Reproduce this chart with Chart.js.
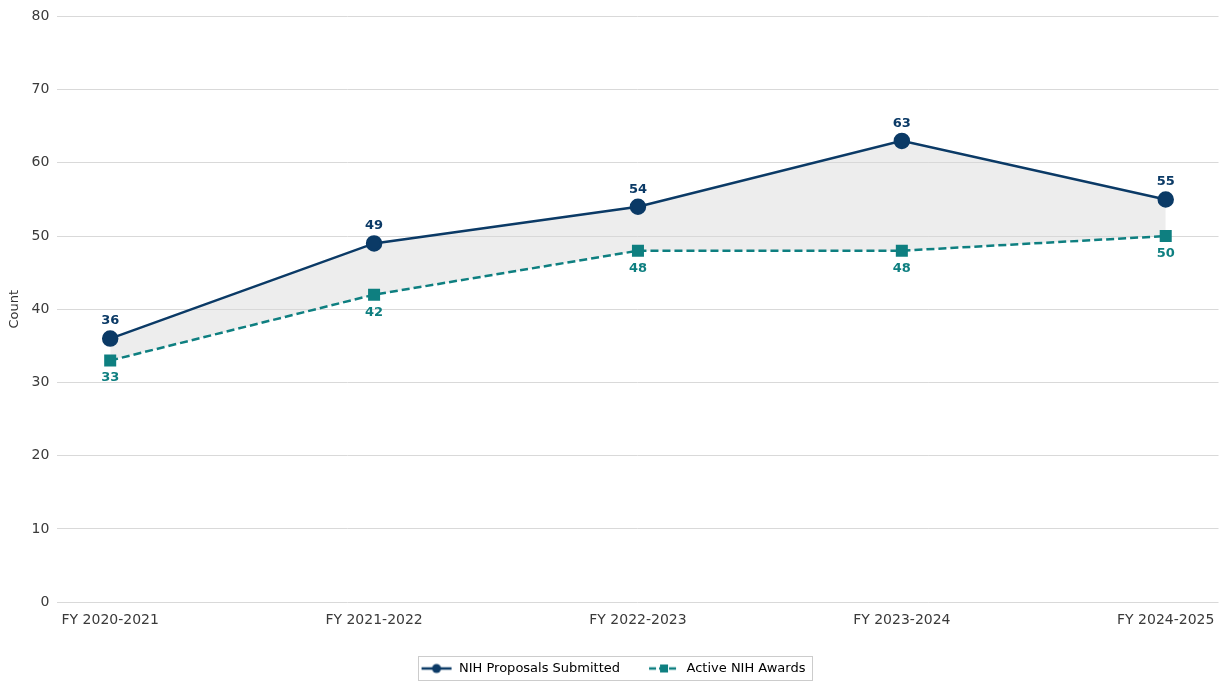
<!DOCTYPE html>
<html>
<head>
<meta charset="utf-8">
<script src="https://cdn.jsdelivr.net/npm/chart.js@4.4.1/dist/chart.umd.min.js"></script>
<style>
  html, body { margin: 0; padding: 0; background: #fff; }
</style>
</head>
<body>
<canvas id="nihChart" width="1228" height="681"></canvas>
<script>
const categories = ['FY 2020-2021', 'FY 2021-2022', 'FY 2022-2023', 'FY 2023-2024', 'FY 2024-2025'];
const proposals = [36, 49, 54, 63, 55];
const awards = [33, 42, 48, 48, 50];
const yTicks = [0, 10, 20, 30, 40, 50, 60, 70, 80];

const NAVY = '#0b3a66';
const TEAL = '#0e7f80';
const FONT = '"DejaVu Sans", sans-serif';

// small canvas icons for the legend: line with marker
function legendIcon(color, dashed, square) {
    const c = document.createElement('canvas');
    c.width = 32; c.height = 12;
    const g = c.getContext('2d');
    g.strokeStyle = color;
    g.lineWidth = 2.5;
    if (dashed) g.setLineDash([7, 3]);
    g.beginPath();
    g.moveTo(1, 6); g.lineTo(31, 6);
    g.stroke();
    g.fillStyle = color;
    if (square) {
        g.fillRect(12, 2, 8, 8);
    } else {
        g.beginPath();
        g.arc(16, 6, 4.5, 0, Math.PI * 2);
        g.fill();
    }
    return c;
}

const pointLabels = {
    id: 'pointLabels',
    afterDatasetsDraw(chart) {
        const ctx = chart.ctx;
        ctx.save();
        ctx.font = 'bold 13px ' + FONT;
        ctx.textAlign = 'center';
        chart.data.datasets.forEach((ds, i) => {
            const meta = chart.getDatasetMeta(i);
            meta.data.forEach((pt, j) => {
                ctx.fillStyle = ds.borderColor;
                if (i === 0) {
                    ctx.textBaseline = 'bottom';
                    ctx.fillText(ds.data[j].y, pt.x, pt.y - 11);
                } else {
                    ctx.textBaseline = 'top';
                    ctx.fillText(ds.data[j].y, pt.x, pt.y + 11);
                }
            });
        });
        ctx.restore();
    }
};

const legendBorder = {
    id: 'legendBorder',
    afterDraw(chart) {
        const items = chart.legend.legendHitBoxes;
        if (!items || !items.length) return;
        const ctx = chart.ctx;
        const left = items[0].left - 3;
        const last = items[items.length - 1];
        const right = last.left + last.width + 6;
        const cy = items[0].top + items[0].height / 2;
        ctx.save();
        ctx.strokeStyle = '#cccccc';
        ctx.lineWidth = 1;
        ctx.strokeRect(Math.round(left) + 0.5, Math.round(cy - 12) + 0.5, Math.round(right - left), 24);
        ctx.restore();
    }
};

new Chart(document.getElementById('nihChart'), {
    type: 'line',
    data: {
        datasets: [{
            label: 'NIH Proposals Submitted',
            data: proposals.map((v, i) => ({ x: i, y: v })),
            borderColor: NAVY,
            backgroundColor: 'rgba(215,215,215,0.45)',
            borderWidth: 2.5,
            pointStyle: 'circle',
            pointRadius: 7,
            pointBackgroundColor: NAVY,
            pointBorderColor: NAVY,
            fill: '+1',
            tension: 0
        }, {
            label: 'Active NIH Awards',
            data: awards.map((v, i) => ({ x: i, y: v })),
            borderColor: TEAL,
            backgroundColor: TEAL,
            borderWidth: 2.5,
            borderDash: [8, 4],
            pointStyle: 'rect',
            pointRadius: 8.5,
            pointBackgroundColor: TEAL,
            pointBorderColor: TEAL,
            pointBorderWidth: 0,
            fill: false,
            tension: 0
        }]
    },
    options: {
        responsive: false,
        animation: false,
        devicePixelRatio: 1,
        layout: { padding: { left: 6, right: 8, top: 2, bottom: -4 } },
        scales: {
            x: {
                type: 'linear',
                min: -0.2,
                max: 4.2,
                afterBuildTicks: axis => {
                    axis.ticks = categories.map((c, i) => ({ value: i }));
                },
                afterFit: axis => { axis.height += 3; },
                ticks: {
                    callback: v => categories[v],
                    color: '#3a3a3a',
                    font: { family: FONT, size: 14 },
                    padding: 2,
                    maxRotation: 0
                },
                grid: { display: false },
                border: { display: false }
            },
            y: {
                min: 0,
                max: 80,
                afterBuildTicks: axis => {
                    axis.ticks = yTicks.map(v => ({ value: v }));
                },
                ticks: {
                    color: '#3a3a3a',
                    font: { family: FONT, size: 14 },
                    padding: 8
                },
                grid: { color: '#d9d9d9', lineWidth: 1, drawTicks: false },
                border: { display: false },
                title: {
                    display: true,
                    text: 'Count',
                    color: '#333',
                    font: { family: FONT, size: 13 },
                    padding: 1
                }
            }
        },
        plugins: {
            filler: { drawTime: 'beforeDatasetsDraw' },
            legend: {
                position: 'bottom',
                labels: {
                    usePointStyle: true,
                    pointStyleWidth: 32,
                    color: '#222',
                    font: { family: FONT, size: 13 },
                    padding: 28,
                    generateLabels: chart => chart.data.datasets.map((ds, i) => ({
                        text: ds.label,
                        pointStyle: legendIcon(ds.borderColor, i === 1, i === 1),
                        fillStyle: ds.borderColor,
                        strokeStyle: ds.borderColor,
                        lineWidth: 0,
                        datasetIndex: i
                    }))
                }
            },
            tooltip: { enabled: false }
        }
    },
    plugins: [pointLabels, legendBorder]
});
</script>
</body>
</html>
